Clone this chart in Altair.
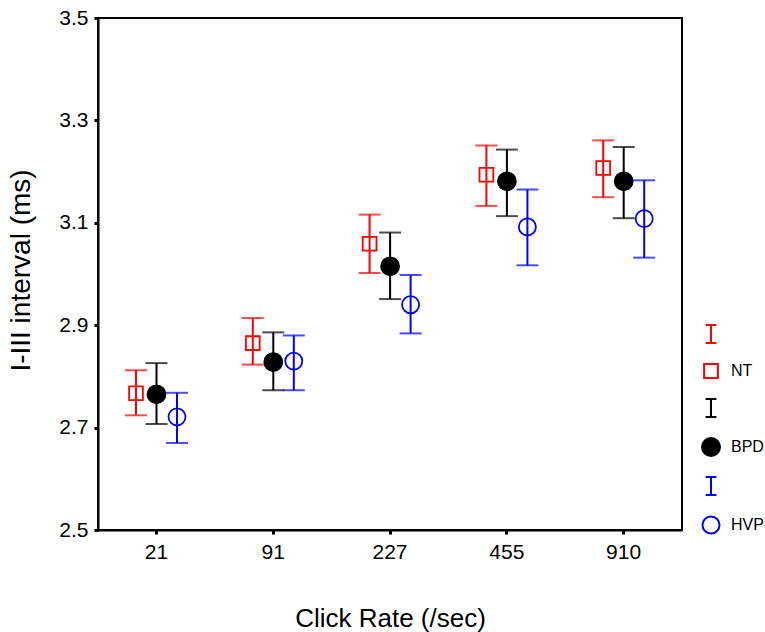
import altair as alt
import pandas as pd

rates = ["21", "91", "227", "455", "910"]
groups = ["NT", "BPD", "HVP"]

nt_mean = [2.767, 2.865, 3.059, 3.194, 3.207]
nt_lo = [2.724, 2.823, 3.002, 3.133, 3.150]
nt_hi = [2.812, 2.914, 3.116, 3.251, 3.261]

bpd_mean = [2.765, 2.828, 3.015, 3.181, 3.181]
bpd_lo = [2.707, 2.773, 2.951, 3.113, 3.109]
bpd_hi = [2.826, 2.886, 3.081, 3.243, 3.248]

hvp_mean = [2.721, 2.830, 2.940, 3.092, 3.108]
hvp_lo = [2.670, 2.773, 2.884, 3.017, 3.032]
hvp_hi = [2.768, 2.880, 2.998, 3.165, 3.183]

y_ticks = [2.5, 2.7, 2.9, 3.1, 3.3, 3.5]

series = {
    "NT": (nt_mean, nt_lo, nt_hi),
    "BPD": (bpd_mean, bpd_lo, bpd_hi),
    "HVP": (hvp_mean, hvp_lo, hvp_hi),
}
rows = []
for g in groups:
    m, lo, hi = series[g]
    for i, r in enumerate(rates):
        rows.append({"rate": r, "key": g, "mean": m[i], "lo": lo[i], "hi": hi[i]})
df = pd.DataFrame(rows)

FONT = "Liberation Sans"
legend_keys = ["NT_I", "NT", "BPD_I", "BPD", "HVP_I", "HVP"]
ibar = "M-0.6,-1H0.6M0,-1V1M-0.6,1H0.6"

x_enc = alt.X(
    "rate:N",
    sort=rates,
    scale=alt.Scale(domain=rates, paddingInner=0, paddingOuter=0),
    axis=alt.Axis(
        title="Click Rate (/sec)", labelAngle=0, labelFontSize=21, labelFont=FONT,
        labelColor="black", tickSize=4, tickWidth=3, tickColor="black",
        domainColor="black", domainWidth=2, labelPadding=7,
        titleFontSize=26, titleFont=FONT, titleFontWeight="normal", titleColor="black",
        titleY=96, titleBaseline="alphabetic",
    ),
)
xoff_enc = alt.XOffset(
    "key:N",
    scale=alt.Scale(type="point", domain=groups, range=[38, 79], padding=0),
)
y_axis = alt.Axis(
    title="I-III interval (ms)", values=y_ticks, format=".1f", grid=False,
    labelFontSize=21, labelFont=FONT, labelColor="black", tickSize=4, tickWidth=3,
    tickColor="black", domainColor="black", domainWidth=2, labelPadding=6,
    titleFontSize=28, titleFont=FONT, titleFontWeight="normal", titleColor="black",
    titleX=-69, titleY=252, titleBaseline="alphabetic",
)
y_scale = alt.Scale(domain=[2.5, 3.5], nice=False, zero=False)

color_scale = alt.Scale(domain=groups, range=["#ff0000", "#000000", "#0000ff"])
stroke_scale = alt.Scale(domain=legend_keys,
                         range=["#ff0000", "#ff0000", "#000000", "#000000", "#0000ff", "#0000ff"])
fill_scale = alt.Scale(domain=legend_keys,
                       range=["transparent", "transparent", "transparent", "#000000", "transparent", "transparent"])
shape_scale = alt.Scale(domain=legend_keys,
                        range=[ibar, "square", ibar, "circle", ibar, "circle"])
size_scale = alt.Scale(type="ordinal", domain=legend_keys,
                       range=[324, 190, 324, 324, 324, 290])

legend = alt.Legend(
    orient="none", legendX=603, legendY=306, title=None,
    labelExpr="indexof(datum.label, '_I') >= 0 ? '' : datum.label",
    symbolStrokeWidth=2, rowPadding=13, labelFontSize=16,
    labelFont=FONT, labelColor="black", labelOffset=10, padding=0,
)

base = alt.Chart(df)

rules = base.mark_rule(strokeWidth=2).encode(
    x=x_enc, xOffset=xoff_enc,
    y=alt.Y("lo:Q", scale=y_scale, axis=y_axis),
    y2="hi:Q",
    color=alt.Color("key:N", scale=color_scale, legend=None),
)
caps_lo = base.mark_tick(size=22, thickness=2).encode(
    x=x_enc, xOffset=xoff_enc,
    y=alt.Y("lo:Q", scale=y_scale),
    color=alt.Color("key:N", scale=color_scale, legend=None),
)
caps_hi = base.mark_tick(size=22, thickness=2).encode(
    x=x_enc, xOffset=xoff_enc,
    y=alt.Y("hi:Q", scale=y_scale),
    color=alt.Color("key:N", scale=color_scale, legend=None),
)
points = base.mark_point(strokeWidth=1.8, opacity=1).encode(
    x=x_enc, xOffset=xoff_enc,
    y=alt.Y("mean:Q", scale=y_scale),
    shape=alt.Shape("key:N", scale=shape_scale, legend=legend),
    stroke=alt.Stroke("key:N", scale=stroke_scale, legend=legend),
    fill=alt.Fill("key:N", scale=fill_scale, legend=legend),
    size=alt.Size("key:N", scale=size_scale, legend=legend),
)

chart = alt.layer(rules, caps_lo, caps_hi, points).properties(
    width=584, height=512,
    background="white",
    autosize=alt.AutoSizeParams(type="none"),
    padding={"left": 98, "top": 18, "right": 83, "bottom": 102},
).configure_view(stroke="black", strokeWidth=2)

chart.save("out.html", embed_options={"renderer": "svg", "actions": False})
